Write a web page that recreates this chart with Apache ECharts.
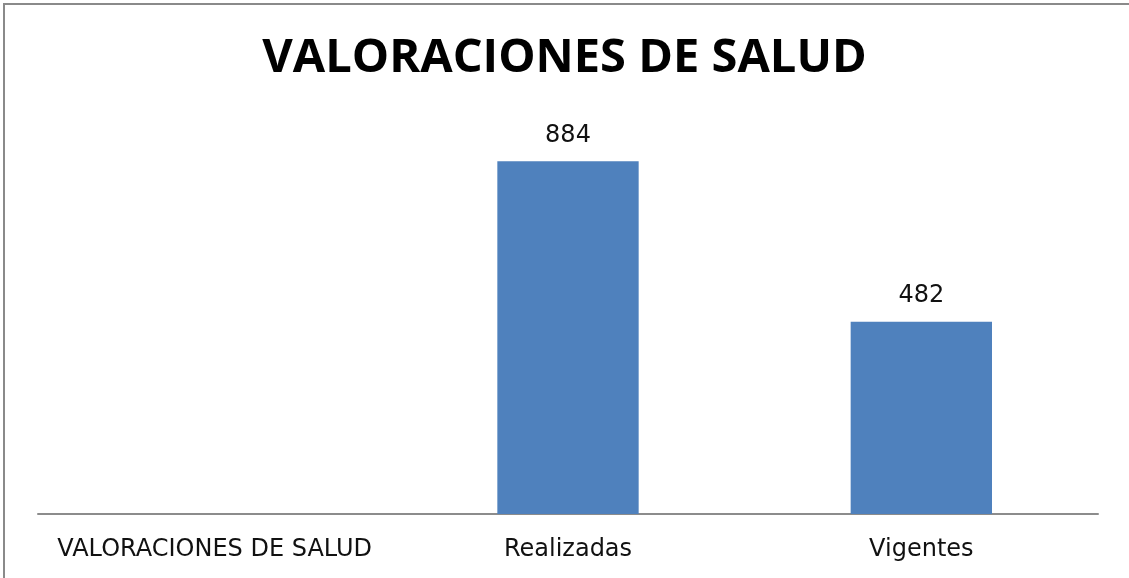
<!DOCTYPE html>
<html>
<head>
<meta charset="utf-8">
<script src="https://cdn.jsdelivr.net/npm/echarts@6/dist/echarts.min.js"></script>
<style>
  html, body { margin: 0; padding: 0; background: #fff; overflow: hidden; }
  #frame { position: absolute; left: 3px; top: 3px; width: 1140px; height: 600px; border: 2px solid #8a8a8a; box-sizing: border-box; }
  #chart { position: absolute; left: 0; top: 0; width: 1129px; height: 578px; }
</style>
</head>
<body>
<div id="frame"></div>
<div id="chart"></div>
<script>
var titleText = 'VALORACIONES DE SALUD';
var categories = ['VALORACIONES DE SALUD', 'Realizadas', 'Vigentes'];
var values = [null, 884, 482];

var chart = echarts.init(document.getElementById('chart'));
var option = {
  animation: false,
  title: {
    text: titleText,
    left: 'center',
    top: 30,
    textStyle: {
      fontFamily: 'Open Sans',
      fontWeight: 'bold',
      fontSize: 47,
      color: '#000'
    }
  },
  grid: { // posición del área de barras
    left: 38,
    right: 31,
    top: 115,
    bottom: 64
  },
  xAxis: {
    type: 'category',
    data: categories,
    axisLine: { lineStyle: { color: '#8c8c8c', width: 2 } },
    axisTick: { show: false },
    axisLabel: {
      interval: 0,
      fontFamily: 'DejaVu Sans',
      fontSize: 24,
      color: '#111',
      margin: 24
    }
  },
  yAxis: {
    type: 'value',
    min: 0,
    max: 1000,
    show: false
  },
  series: [
    {
      type: 'bar',
      data: values,
      barWidth: '40%',
      itemStyle: { color: '#4f81bd' },
      label: {
        show: true,
        position: 'top',
        distance: 14,
        fontFamily: 'DejaVu Sans',
        fontSize: 24,
        color: '#111'
      }
    }
  ]
};
chart.setOption(option);
window.addEventListener('resize', function () {
  chart.resize();
});
</script>
</body>
</html>
